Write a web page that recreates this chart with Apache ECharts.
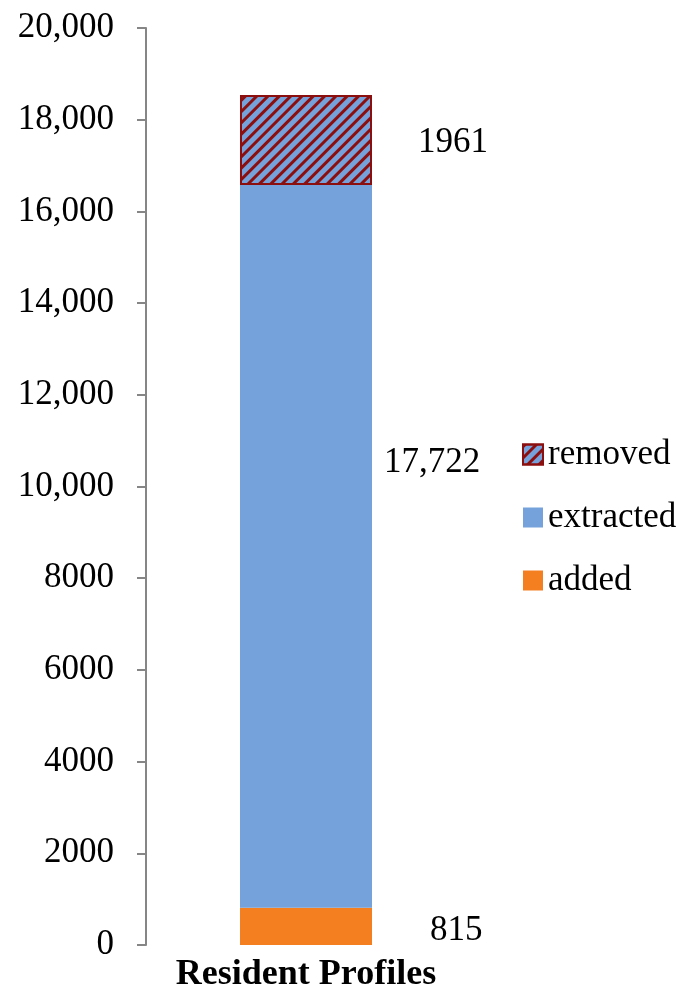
<!DOCTYPE html>
<html>
<head>
<meta charset="utf-8">
<script src="https://cdn.jsdelivr.net/npm/echarts@6/dist/echarts.min.js"></script>
<style>html,body{margin:0;padding:0;background:#fff;}#c{width:689px;height:987px;}</style>
</head>
<body>
<div id="c"></div>
<script>
const categories = ['Resident Profiles'];
const addedValues = [815];
const extractedVisible = [15761];   // extracted (17,722) minus the removed part (1961)
const removedValues = [1961];
const extractedLabel = '17,722';
const removedLabel = '1961';
const addedLabel = '815';
const tickLabels = {0:'0',2000:'2000',4000:'4000',6000:'6000',8000:'8000',10000:'10,000',12000:'12,000',14000:'14,000',16000:'16,000',18000:'18,000',20000:'20,000'};

const FONT = 'Liberation Serif';
const FS = 35;
const chart = echarts.init(document.getElementById('c'));
chart.setOption({
  animation: false,
  backgroundColor: '#fff',
  grid: { left: 146, right: 223, top: 28, bottom: 42, containLabel: false, outerBoundsMode: 'none' },
  legend: {
    orient: 'vertical', left: 522, top: 437, padding: 0, itemWidth: 20, itemHeight: 20, itemGap: 28,
    icon: 'rect',
    data: ['removed', 'extracted', 'added'],
    textStyle: { fontFamily: FONT, fontSize: FS, color: '#000' }
  },
  xAxis: {
    type: 'category', data: categories,
    axisLine: { show: false }, axisTick: { show: false },
    axisLabel: { fontFamily: FONT, fontWeight: 'bold', fontSize: 36, color: '#000', margin: 12 }
  },
  yAxis: {
    type: 'value', min: 0, max: 20000, interval: 2000,
    axisLine: { show: true, lineStyle: { color: '#868686', width: 2 } },
    axisTick: { show: true, inside: false, length: 9, lineStyle: { color: '#868686', width: 2 } },
    splitLine: { show: false },
    axisLabel: { fontFamily: FONT, fontSize: FS, color: '#000', margin: 32, formatter: v => tickLabels[v] }
  },
  series: [
    {
      name: 'added', type: 'bar', stack: 's', barWidth: 132, data: addedValues,
      itemStyle: { color: '#F47F20' },
      label: { show: true, position: 'right', distance: 58, offset: [0, 4], formatter: addedLabel,
               fontFamily: FONT, fontSize: FS, color: '#000' }
    },
    {
      name: 'extracted', type: 'bar', stack: 's', data: extractedVisible,
      itemStyle: { color: '#75A2DB' },
      label: { show: true, position: 'right', distance: 12, offset: [0, -83], formatter: extractedLabel,
               fontFamily: FONT, fontSize: FS, color: '#000' }
    },
    {
      name: 'removed', type: 'bar', stack: 's', data: removedValues,
      itemStyle: {
        color: '#75A2DB', borderColor: '#8B0F0F', borderWidth: 2,
        decal: { symbol: 'rect', color: '#8B0F0F', dashArrayX: [1, 0], dashArrayY: [2.5, 4.5], rotation: -Math.PI / 4 }
      },
      label: { show: true, position: 'right', distance: 46, offset: [0, 3], formatter: removedLabel,
               fontFamily: FONT, fontSize: FS, color: '#000' }
    }
  ]
});
</script>
</body>
</html>
